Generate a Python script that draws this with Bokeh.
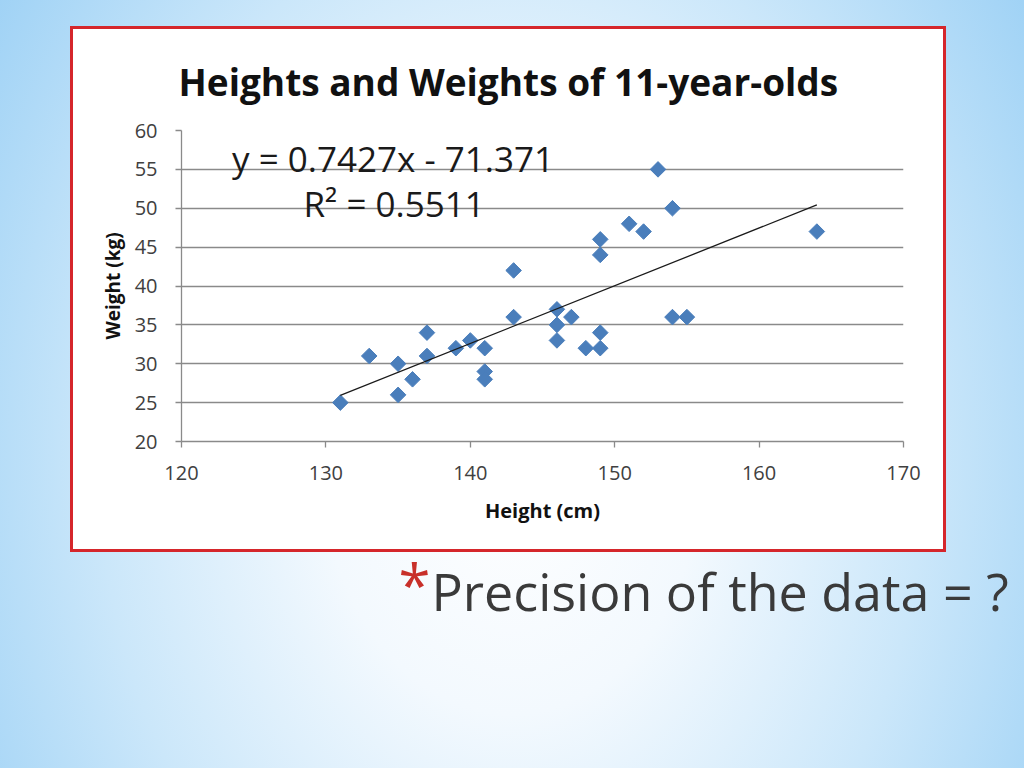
import numpy as np
from bokeh.plotting import figure
from bokeh.models import Range1d, FixedTicker, Label, Title, ColumnDataSource
from bokeh.embed import file_html
from bokeh.resources import INLINE

# ---- data ----
heights = [131, 133, 135, 135, 136, 137, 137, 139, 140, 141, 141, 141, 143, 143,
           146, 146, 146, 147, 148, 149, 149, 149, 149, 151, 152, 153, 154, 154,
           155, 164]
weights = [25, 31, 30, 26, 28, 34, 31, 32, 33, 32, 29, 28, 42, 36,
           37, 35, 33, 36, 32, 46, 44, 34, 32, 48, 47, 55, 50, 36,
           36, 47]
slope = 0.7427
intercept = -71.371
r_squared = 0.5511
x_ticks = [120, 130, 140, 150, 160, 170]
y_ticks = [20, 25, 30, 35, 40, 45, 50, 55, 60]

title_text = "Heights and Weights of 11-year-olds"
x_label = "Height (cm)"
y_label = "Weight (kg)"
eq_text = "y = 0.7427x - 71.371"
r2_text = "R\u00b2 = 0.5511"
bullet_mark = "*"
bullet_text = "Precision of the data = ?"

FONT = "Open Sans"
GRID = "#8a8a8a"
BLUE = "#4a7ebb"

page_bg = ", ".join([
    "linear-gradient(#ffffff, #ffffff) 73px 29px / 870px 520px no-repeat",
    "linear-gradient(#d5262b, #d5262b) 70px 26px / 876px 526px no-repeat",
    "radial-gradient(ellipse 62% 110% at 50% 60%, #ffffff 0%, #f3f9fe 30%, #cbe7fa 65%, #9dd1f5 100%)",
])

p = figure(width=1024, height=768,
           x_range=Range1d(x_ticks[0], x_ticks[-1]), y_range=Range1d(y_ticks[0], y_ticks[-1]),
           output_backend="svg", toolbar_location=None,
           min_border_left=181, min_border_right=121,
           min_border_top=130, min_border_bottom=327,
           background_fill_color="white", border_fill_alpha=0,
           outline_line_color=None,
           styles={"background": page_bg})

p.title.text = title_text
p.title.text_font = FONT
p.title.text_font_size = "37px"
p.title.text_font_style = "bold"
p.title.text_color = "#111111"
p.title.align = "left"
p.title.offset = -3
p.title.standoff = 47

p.xgrid.visible = False
p.ygrid.grid_line_color = GRID
p.ygrid.grid_line_width = 1.3
p.ygrid.ticker = FixedTicker(ticks=y_ticks)

for ax in (p.xaxis, p.yaxis):
    ax.axis_line_color = GRID
    ax.axis_line_width = 1.3
    ax.major_tick_line_color = GRID
    ax.major_tick_line_width = 1.3
    ax.minor_tick_line_color = None
    ax.major_tick_in = 0
    ax.major_tick_out = 6
    ax.major_label_text_font = FONT
    ax.major_label_text_font_size = "20px"
    ax.major_label_text_color = "#404040"
    ax.axis_label_text_font = FONT
    ax.axis_label_text_font_style = "bold"
    ax.axis_label_text_color = "#111111"

p.xaxis.ticker = FixedTicker(ticks=x_ticks)
p.yaxis.ticker = FixedTicker(ticks=y_ticks)
p.xaxis.axis_label = x_label
p.yaxis.axis_label = y_label
p.xaxis.axis_label_text_font_size = "20px"
p.yaxis.axis_label_text_font_size = "19px"
p.xaxis.major_label_standoff = 18
p.yaxis.major_label_standoff = 18
p.xaxis.axis_label_standoff = 14
p.yaxis.axis_label_standoff = 6

src = ColumnDataSource(dict(x=heights, y=weights))
p.scatter("x", "y", source=src, marker="square", size=11, angle=np.pi / 4,
          fill_color=BLUE, line_color=BLUE)

trend_x = [min(heights), max(heights)]
trend_y = [slope * v + intercept for v in trend_x]
p.line(trend_x, trend_y, line_color="#1a1a1a", line_width=1.3)

p.add_layout(Label(x=123.5, y=56.4, text=eq_text, text_font=FONT,
                   text_font_size="35px", text_color="#1a1a1a",
                   text_baseline="alphabetic"))
p.add_layout(Label(x=128.45, y=50.6, text=r2_text, text_font=FONT,
                   text_font_size="35px", text_color="#1a1a1a",
                   text_baseline="alphabetic"))

# bullet line under the chart box, as titles in the lower panel
p.add_layout(Title(text=bullet_text, align="left", offset=250, standoff=53,
                   text_font=FONT, text_font_size="52px", text_font_style="normal",
                   text_color="#3a3a3a"), "below")
p.add_layout(Title(text=bullet_mark, align="left", offset=217, standoff=-215,
                   vertical_align="top",
                   text_font=FONT, text_font_size="58px", text_font_style="normal",
                   text_color="#c8302a"), "below")

open("out.html", "w").write(file_html(p, INLINE))
